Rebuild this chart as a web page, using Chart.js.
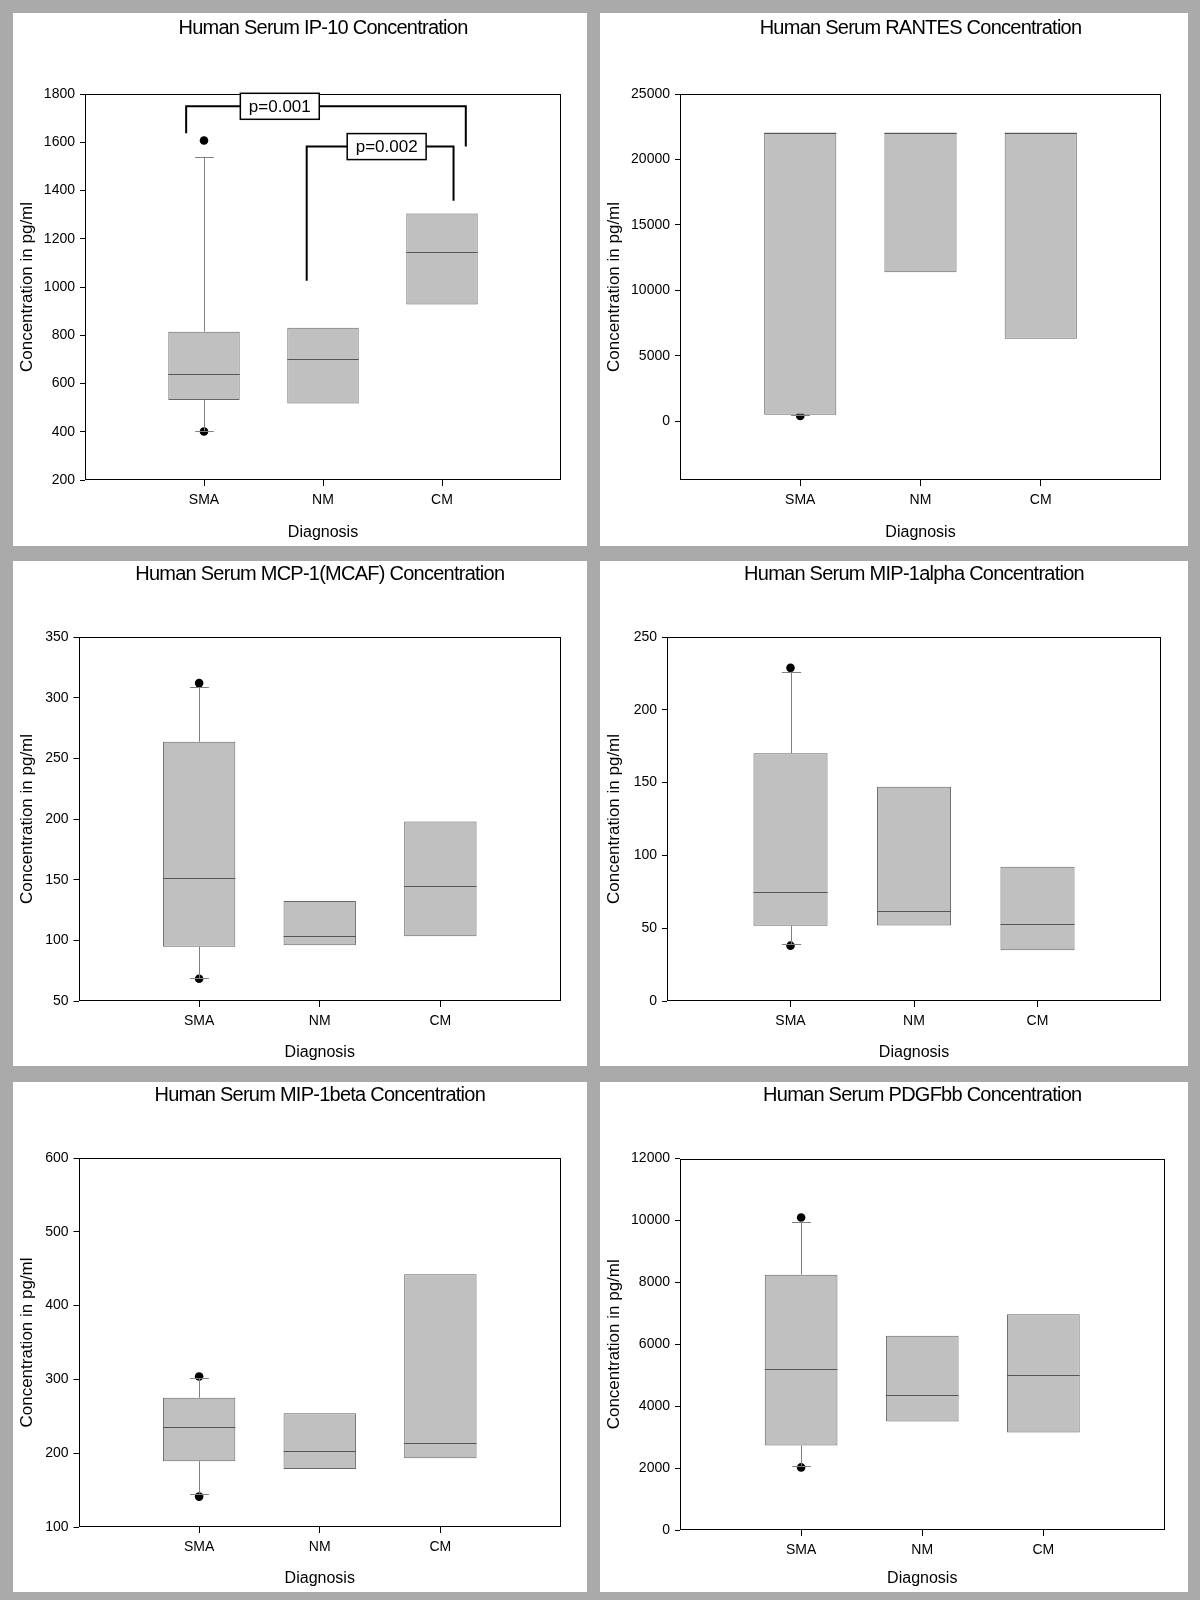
<!DOCTYPE html>
<html>
<head>
<meta charset="utf-8">
<script src="https://cdn.jsdelivr.net/npm/chart.js@4/dist/chart.umd.min.js"></script>
<style>
	body { margin: 0; width: 1200px; height: 1600px; background: #aaaaaa; position: relative; overflow: hidden; }
	.panel { position: absolute; background: #ffffff; }
	.panel canvas { display: block; }
</style>
</head>
<body>
<script>
/* globals Chart */

// ---- data (one row per panel) ----
const groups = ['SMA', 'NM', 'CM'];
const groupPos = [1, 2, 3];

const titles = [
	'Human Serum IP-10 Concentration',
	'Human Serum RANTES Concentration',
	'Human Serum MCP-1(MCAF) Concentration',
	'Human Serum MIP-1alpha Concentration',
	'Human Serum MIP-1beta Concentration',
	'Human Serum PDGFbb Concentration'
];

const yMins	= [200, -4500, 50, 0, 100, 0];
const yMaxs	= [1800, 25000, 350, 250, 600, 12000];
const ySteps	= [200, 5000, 50, 50, 100, 2000];

const q1 = [
	[532, 517, 927],
	[483, 11373, 6304],
	[94.8, 95.9, 103.3],
	[51.7, 51.9, 34.8],
	[189.2, 178.7, 193.3],
	[2732, 3508, 3147]
];
const q3 = [
	[815, 831, 1305],
	[22050, 22050, 22050],
	[263.7, 132.5, 198],
	[170.1, 147.1, 92.2],
	[275.2, 254.2, 442.6],
	[8251, 6273, 6973]
];
const medians = [
	[638, 703, 1144],
	[22050, 22050, 22050],
	[151.1, 103.8, 144.5],
	[75.1, 61.5, 52.8],
	[235.9, 202.9, 213.9],
	[5213, 4372, 4994]
];
const whiskerLow = [
	[404, null, null],
	[455, null, null],
	[68.6, null, null],
	[39.2, null, null],
	[145.3, null, null],
	[2077, null, null]
];
const whiskerHigh = [
	[1540, null, null],
	[null, null, null],
	[308.5, null, null],
	[226.1, null, null],
	[301.7, null, null],
	[9967, null, null]
];
// [group position, value]
const outliers = [
	[[1, 1607], [1, 401]],
	[[1, 400]],
	[[1, 312], [1, 68.3]],
	[[1, 228.8], [1, 38]],
	[[1, 304], [1, 141.2]],
	[[1, 10098], [1, 2022]]
];

// significance brackets on the IP-10 panel (x in group units, y in pg/ml)
const ip10Brackets = [
	{ from: 0.85, to: 3.2, top: 1749, fromEnd: 1637, toEnd: 1582, labelAt: 1.637, text: 'p=0.001' },
	{ from: 1.863, to: 3.097, top: 1582, fromEnd: 1026, toEnd: 1358, labelAt: 2.535, text: 'p=0.002' }
];

// ---- layout ----
const panelBoxes = [
	{ left: 13,  top: 13,   w: 574, h: 533, plotLeft: 72,   padRight: 26,   padTop: 81,   xAxisH: 66, titleY: 15 },
	{ left: 600, top: 13,   w: 588, h: 533, plotLeft: 80,   padRight: 27,   padTop: 81,   xAxisH: 66, titleY: 15 },
	{ left: 13,  top: 561,  w: 574, h: 505, plotLeft: 65.5, padRight: 26,   padTop: 76,   xAxisH: 65, titleY: 13.5 },
	{ left: 600, top: 561,  w: 588, h: 505, plotLeft: 67,   padRight: 27,   padTop: 76,   xAxisH: 65, titleY: 13.5 },
	{ left: 13,  top: 1082, w: 574, h: 510, plotLeft: 65.5, padRight: 26,   padTop: 76,   xAxisH: 65, titleY: 13 },
	{ left: 600, top: 1082, w: 588, h: 510, plotLeft: 80,   padRight: 23.5, padTop: 76.6, xAxisH: 62, titleY: 13 }
];

const FONT = '"Liberation Sans", Arial, sans-serif';
const BOX_FILL = '#c0c0c0';
const BOX_EDGE = '#666666';
const MEDIAN_COLOR = '#555555';
const WHISKER_COLOR = '#808080';

Chart.defaults.font.family = FONT;
Chart.defaults.color = '#000';

// title centred over the plot area, like the original
const panelTitle = {
	id: 'panelTitle',
	afterDraw(chart, args, opts) {
		const { ctx, chartArea } = chart;
		ctx.save();
		ctx.font = '20px ' + FONT;
		if ('letterSpacing' in ctx) ctx.letterSpacing = '-0.75px';
		ctx.fillStyle = '#000';
		ctx.textAlign = 'center';
		ctx.textBaseline = 'middle';
		ctx.fillText(opts.text, (chartArea.left + chartArea.right) / 2, opts.y);
		ctx.restore();
	}
};

// frame, medians, whiskers and brackets
const boxDecor = {
	id: 'boxDecor',
	beforeDatasetsDraw(chart) {
		const { ctx, chartArea: a } = chart;
		ctx.save();
		ctx.strokeStyle = '#000';
		ctx.lineWidth = 1;
		const l = Math.round(a.left) + 0.5, t = Math.round(a.top) + 0.5;
		const r = Math.round(a.right) - 0.5, b = Math.round(a.bottom) - 0.5;
		ctx.strokeRect(l, t, r - l, b - t);
		ctx.restore();
	},
	afterDatasetsDraw(chart, args, opts) {
		const { ctx, scales: { x, y } } = chart;
		const meta = chart.getDatasetMeta(0);
		ctx.save();

		function hline(x0, x1, yy) {
			ctx.beginPath();
			ctx.moveTo(x0, Math.round(yy) + 0.5);
			ctx.lineTo(x1, Math.round(yy) + 0.5);
			ctx.stroke();
		}

		for (let j = 0; j < meta.data.length; j++) {
			const el = meta.data[j];
			const cx = Math.round(el.x) + 0.5;
			const half = el.width / 2;
			const capHalf = el.width * 0.13;

			ctx.lineWidth = 1;
			ctx.strokeStyle = WHISKER_COLOR;
			const ends = [[opts.q3[j], opts.hi[j]], [opts.q1[j], opts.lo[j]]];
			for (const [from, to] of ends) {
				if (to === null) continue;
				ctx.beginPath();
				ctx.moveTo(cx, y.getPixelForValue(from));
				ctx.lineTo(cx, y.getPixelForValue(to));
				ctx.stroke();
				hline(cx - capHalf, cx + capHalf, y.getPixelForValue(to));
			}

			ctx.strokeStyle = MEDIAN_COLOR;
			hline(el.x - half, el.x + half, y.getPixelForValue(opts.med[j]));
		}

		for (const br of opts.brackets) {
			const x0 = x.getPixelForValue(br.from), x1 = x.getPixelForValue(br.to);
			const yt = y.getPixelForValue(br.top);
			ctx.strokeStyle = '#000';
			ctx.lineWidth = 2;
			ctx.beginPath();
			ctx.moveTo(x0, y.getPixelForValue(br.fromEnd));
			ctx.lineTo(x0, yt);
			ctx.lineTo(x1, yt);
			ctx.lineTo(x1, y.getPixelForValue(br.toEnd));
			ctx.stroke();

			ctx.font = '17px ' + FONT;
			const tw = ctx.measureText(br.text).width;
			const bw = tw + 17, bh = 26;
			const bx = x.getPixelForValue(br.labelAt) - bw / 2;
			ctx.fillStyle = '#fff';
			ctx.fillRect(bx, yt - bh / 2, bw, bh);
			ctx.lineWidth = 1.5;
			ctx.strokeRect(bx, yt - bh / 2, bw, bh);
			ctx.fillStyle = '#000';
			ctx.textAlign = 'center';
			ctx.textBaseline = 'middle';
			ctx.fillText(br.text, bx + bw / 2, yt + 1);
		}
		ctx.restore();
	}
};

function MakePanel(i) {
	const box = panelBoxes[i];
	const div = document.createElement('div');
	div.className = 'panel';
	div.style.left = box.left + 'px';
	div.style.top = box.top + 'px';
	div.style.width = box.w + 'px';
	div.style.height = box.h + 'px';
	const canvas = document.createElement('canvas');
	canvas.width = box.w;
	canvas.height = box.h;
	div.appendChild(canvas);
	document.body.appendChild(div);

	const boxes = groupPos.map((gx, j) => ({ x: gx, y: [q1[i][j], q3[i][j]] }));
	const points = outliers[i].map(o => ({ x: o[0], y: o[1] }));
	const step = ySteps[i];

	// ticks at whole steps only (the RANTES axis starts below zero)
	const yTicks = [];
	for (let v = Math.ceil(yMins[i] / step) * step; v <= yMaxs[i] + 1e-9; v += step) {
		yTicks.push({ value: v });
	}

	new Chart(canvas, {
		type: 'bar',
		data: {
			datasets: [
				{
					type: 'bar',
					data: boxes,
					order: 0,
					backgroundColor: BOX_FILL,
					borderColor: BOX_EDGE,
					borderWidth: 1,
					borderSkipped: false,
					barPercentage: 0.6,
					categoryPercentage: 1
				},
				{
					type: 'scatter',
					data: points,
					order: 1,
					pointRadius: 4.3,
					pointStyle: 'circle',
					backgroundColor: '#000',
					borderWidth: 0
				}
			]
		},
		options: {
			responsive: false,
			animation: false,
			events: [],
			layout: { padding: { left: 0, top: box.padTop, right: box.padRight, bottom: 0 } },
			plugins: {
				legend: { display: false },
				tooltip: { enabled: false },
				panelTitle: { text: titles[i], y: box.titleY },
				boxDecor: {
					q1: q1[i], q3: q3[i], med: medians[i],
					lo: whiskerLow[i], hi: whiskerHigh[i],
					brackets: i === 0 ? ip10Brackets : []
				}
			},
			scales: {
				x: {
					type: 'linear',
					min: 0,
					max: 4,
					offset: false,
					afterBuildTicks: s => { s.ticks = groupPos.map(v => ({ value: v })); },
					afterFit: s => { s.height = box.xAxisH; },
					border: { display: false },
					grid: { offset: false, drawOnChartArea: false, drawTicks: true, tickLength: 6, tickColor: '#000', color: '#000' },
					ticks: {
						autoSkip: false,
						maxRotation: 0,
						padding: 6,
						font: { size: 14 },
						callback: v => groups[groupPos.indexOf(v)] ?? ''
					},
					title: { display: true, text: 'Diagnosis', font: { size: 16 } }
				},
				y: {
					type: 'linear',
					min: yMins[i],
					max: yMaxs[i],
					afterBuildTicks: s => { s.ticks = yTicks.slice(); },
					afterFit: s => { s.width = box.plotLeft; },
					border: { display: false },
					grid: { offset: false, drawOnChartArea: false, drawTicks: true, tickLength: 5, tickColor: '#000', color: '#000' },
					ticks: {
						padding: 5,
						font: { size: 14 },
						callback: v => String(v)
					},
					title: { display: true, text: 'Concentration in pg/ml', font: { size: 17 } }
				}
			}
		},
		plugins: [panelTitle, boxDecor]
	});
}

for (let i = 0; i < titles.length; i++) {
	MakePanel(i);
}
</script>
</body>
</html>
